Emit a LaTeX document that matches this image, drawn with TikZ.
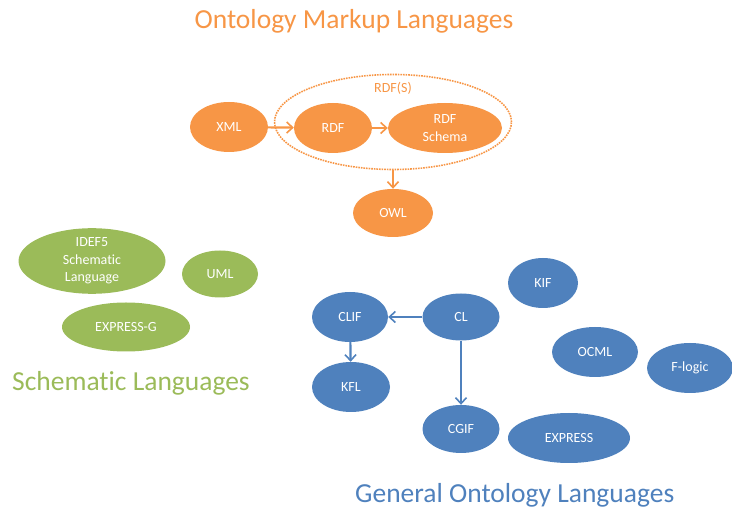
\documentclass[tikz,border=0pt]{standalone}
\usepackage{fontspec}
\setmainfont{Carlito}[Ligatures=NoCommon]
\usetikzlibrary{shapes.geometric,arrows.meta}
\definecolor{ocorange}{HTML}{F79646}
\definecolor{ocgreen}{HTML}{9BBB59}
\definecolor{ocblue}{HTML}{4F81BD}
\tikzset{
  lang/.style={ellipse, inner sep=0pt, text=white, font=\fontsize{14}{17.5}\selectfont, align=center},
  orangelang/.style={lang, fill=ocorange},
  greenlang/.style={lang, fill=ocgreen},
  bluelang/.style={lang, fill=ocblue},
  link/.style={line width=2.2pt, -{Straight Barb[length=6pt,width=11pt,line width=1.6pt]}},
  title/.style={font=\fontsize{27.5}{30}\selectfont, inner sep=0pt}
}
\begin{document}
\begin{tikzpicture}[x=1pt,y=-1pt]
\useasboundingbox (0,0) rectangle (732,510);

% markup languages
\node[title, text=ocorange] (tmark) at (354,21) {Ontology Markup Languages};
\node[draw=ocorange, line width=1.6pt, dash pattern=on 1.6pt off 1pt, ellipse,
      minimum width=237, minimum height=95] (rdfs) at (393,122) {};
\node[text=ocorange, font=\fontsize{14}{15}\selectfont] (rdfslabel) at (393,88) {RDF(S)};
\node[orangelang, minimum width=78, minimum height=50] (xml) at (229,127) {XML};
\node[orangelang, minimum width=78, minimum height=50] (rdf) at (333,128) {RDF};
\node[orangelang, minimum width=114, minimum height=50] (schema) at (445,128) {RDF\\Schema};
\node[orangelang, minimum width=80, minimum height=48] (owl) at (393,213) {OWL};
\draw[link, ocorange] (xml) -- (rdf);
\draw[link, ocorange] (rdf) -- (schema);
\draw[link, ocorange] (rdfs.south) -- (owl);

% schematic languages
\node[greenlang, minimum width=147, minimum height=60] (idef) at (92,261) {IDEF5\\Schematic\\Language};
\node[greenlang, minimum width=76, minimum height=47] (uml) at (220,274) {UML};
\node[greenlang, minimum width=128, minimum height=49] (expg) at (126,327) {EXPRESS-G};
\node[title, text=ocgreen, anchor=west] (tschem) at (12,383) {Schematic Languages};

% general ontology languages
\node[bluelang, minimum width=76, minimum height=50] (clif) at (350,317) {CLIF};
\node[bluelang, minimum width=77, minimum height=47] (cl) at (461,317) {CL};
\node[bluelang, minimum width=70, minimum height=50] (kif) at (543,283) {KIF};
\node[bluelang, minimum width=78, minimum height=50] (kfl) at (351,387) {KFL};
\node[bluelang, minimum width=86, minimum height=50] (ocml) at (595,352) {OCML};
\node[bluelang, minimum width=86, minimum height=50] (flogic) at (690,368) {F-logic};
\node[bluelang, minimum width=77, minimum height=48] (cgif) at (461,429) {CGIF};
\node[bluelang, minimum width=122, minimum height=50] (express) at (569,438) {EXPRESS};
\draw[link, ocblue] (cl) -- (clif);
\draw[link, ocblue] (clif) -- (kfl);
\draw[link, ocblue] (cl) -- (cgif);
\node[title, text=ocblue, anchor=west] (tgen) at (355,495) {General Ontology Languages};
\end{tikzpicture}
\end{document}
